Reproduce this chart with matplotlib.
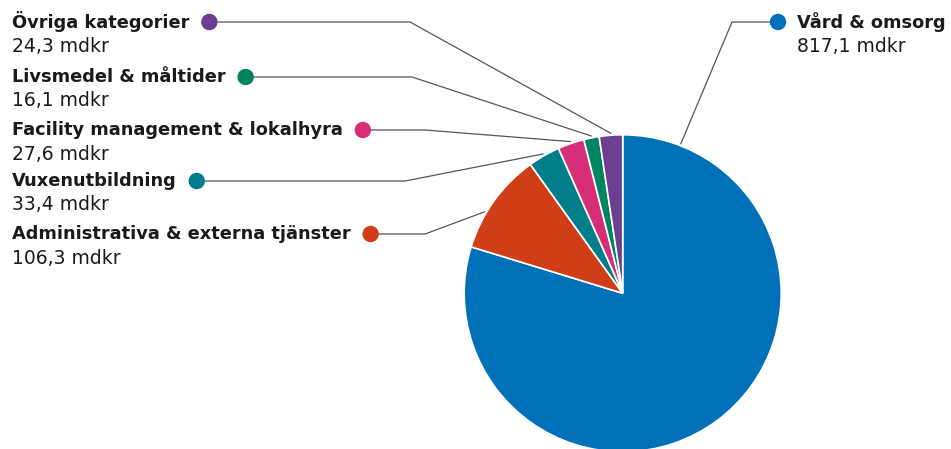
import numpy as np
import matplotlib
matplotlib.use('Agg')
import matplotlib.pyplot as plt
from matplotlib.patches import Circle

# data
categories = ['Vård & omsorg', 'Administrativa & externa tjänster', 'Vuxenutbildning',
              'Facility management & lokalhyra', 'Livsmedel & måltider', 'Övriga kategorier']
values = [817.1, 106.3, 33.4, 27.6, 16.1, 24.3]
value_labels = ['817,1 mdkr', '106,3 mdkr', '33,4 mdkr', '27,6 mdkr', '16,1 mdkr', '24,3 mdkr']
colors = ['#0071b9', '#d03e17', '#007d8b', '#d52e76', '#00845f', '#6a3f92']

W, H = 951, 449
fig = plt.figure(figsize=(W/100, H/100), dpi=100)
ax = fig.add_axes([0, 0, 1, 1])

cx, cy, r = 622.7, H - 293.3, 158.5
ax.pie(values, colors=colors, startangle=90, counterclock=False, center=(cx, cy),
       radius=r, wedgeprops=dict(edgecolor='white', linewidth=1.2), frame=True)
ax.set_xlim(0, W)
ax.set_ylim(0, H)
ax.axis('off')

# label layout (pixel coords from top)
label_y = [22, 234, 181, 130, 77, 22]
elbow_x = [732, 425, 405, 425, 412, 410]
anchor_frac = [0.074, 0.36, 0.5, 0.5, 0.5, 0.5]  # where along each slice the leader line points
left_x = 12
fs_b = 12.8
fs_v = 13.5
txt_col = '#1a1a1a'

fig.canvas.draw()
renderer = fig.canvas.get_renderer()

total = sum(values)
cum = 0
for i, (cat, v) in enumerate(zip(categories, values)):
    mid = cum + v * anchor_frac[i]
    cum += v
    ang = np.deg2rad(90 - 360 * mid / total)
    ex = cx + (r + 2) * np.cos(ang)
    ey = cy + (r + 2) * np.sin(ang)
    y = H - label_y[i]
    if i == 0:
        dot_x = 778
        ax.text(797, y, cat, fontsize=fs_b, fontweight='bold', color=txt_col, va='center', ha='left')
        ax.text(797, y - 24, value_labels[i], fontsize=fs_v, color=txt_col, va='center', ha='left')
    else:
        t = ax.text(left_x, y, cat, fontsize=fs_b, fontweight='bold', color=txt_col, va='center', ha='left')
        ax.text(left_x, y - 24, value_labels[i], fontsize=fs_v, color=txt_col, va='center', ha='left')
        bb = t.get_window_extent(renderer=renderer)
        dot_x = bb.x1 + 20
    ax.plot([dot_x, elbow_x[i], ex], [y, y, ey], color='#555555', linewidth=0.9, zorder=1)
    ax.add_patch(Circle((dot_x, y), 7.5, color=colors[i], zorder=3))

fig.savefig('out.png', dpi=100)
